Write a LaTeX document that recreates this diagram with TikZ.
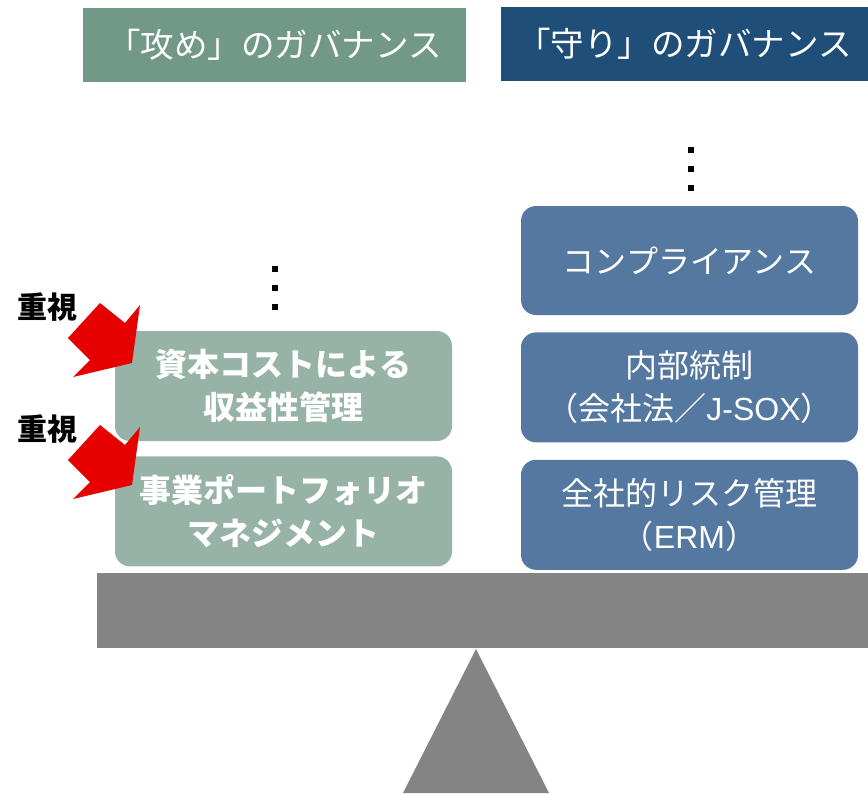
\documentclass[tikz,border=0pt]{standalone}
\usepackage{fontspec}
\setmainfont{Noto Sans CJK JP}
\newfontfamily\latinfont{Liberation Sans}
\usetikzlibrary{positioning}

\definecolor{attackhead}{RGB}{114,153,135}
\definecolor{attackbox}{RGB}{151,178,166}
\definecolor{defendhead}{RGB}{31,78,121}
\definecolor{defendbox}{RGB}{84,120,160}
\definecolor{beamgray}{RGB}{132,132,132}
\definecolor{focusred}{RGB}{230,0,0}

\tikzset{
  head/.style={minimum height=74pt, inner sep=0pt, text=white,
               font=\fontsize{33.5}{40}\selectfont},
  item/.style={rounded corners=15pt, minimum width=337pt, minimum height=110pt,
               inner sep=0pt, text=white, align=center,
               font=\fontsize{32}{43}\selectfont},
  emph/.style={font=\fontsize{30}{34}\selectfont\bfseries, inner sep=0pt}
}

\begin{document}
\begin{tikzpicture}[x=1pt, y=-1pt]
      \useasboundingbox (0,0) rectangle (868,793);
      % headers
      \node (attack) [head, fill=attackhead, minimum width=383pt] at (274.5,45) {「攻め」のガバナンス};
      \node (defend) [head, fill=defendhead, minimum width=367pt] at (684.5,44) {「守り」のガバナンス};
      % defensive stack
      \node (comp) [item, fill=defendbox, minimum height=109pt] at (689.5,260.5) {コンプライアンス};
      \node (ictrl) [item, fill=defendbox, below=17pt of comp] {内部統制\\（会社法／{\latinfont J-SOX}）};
      \node (erm) [item, fill=defendbox, below=17pt of ictrl] {全社的リスク管理\\（{\latinfont ERM}）};
      % offensive stack
      \node (capital) [item, fill=attackbox, font=\fontsize{32}{43}\selectfont\bfseries] at (283.5,386) {資本コストによる\\収益性管理};
      \node (portfolio) [item, fill=attackbox, font=\fontsize{32}{43}\selectfont\bfseries, below=15pt of capital] {事業ポートフォリオ\\マネジメント};
      % dots
      \foreach \dy in {0,19,38} {
        \fill (272,266+\dy) rectangle ++(6,6);
        \fill (688,147+\dy) rectangle ++(6,6);
      }
      % emphasis arrows
      \foreach \dy/\name in {0/upper,122/lower} {
        \fill[focusred] (100,303+\dy) -- (125,323+\dy) -- (140,305+\dy) -- (132,363+\dy)
                     -- (73,377+\dy) -- (90,360+\dy) -- (68,338+\dy) -- cycle;
        \node (w\name) [emph] at (47,307+\dy) {重視};
      }
      % balance
      \fill[beamgray] (97,573) rectangle (868,648);
      \fill[beamgray] (476,649) -- (549,793) -- (403,793) -- cycle;
\end{tikzpicture}
\end{document}
